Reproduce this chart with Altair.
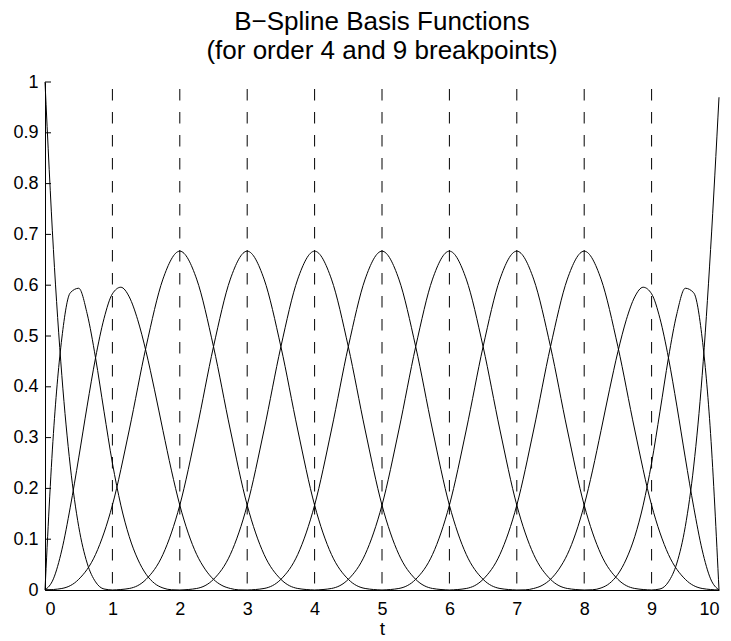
import altair as alt
import pandas as pd

# Each basis function: starting t, sampling step, and values
B_starts = [0, 0, 0, 0, 1, 2, 3, 4, 5, 6, 7, 8, 9]
B_steps = [0.125, 0.125, 0.125, 0.25, 0.25, 0.25, 0.25, 0.25, 0.25, 0.25, 0.125, 0.125, 0.125]
B_values = [
    [1.0, 0.670, 0.422, 0.244, 0.125, 0.053, 0.016, 0.002, 0.0],
    [0.0, 0.308, 0.496, 0.585, 0.594, 0.544, 0.457, 0.352, 0.25, 0.167, 0.105, 0.061, 0.031, 0.013, 0.004, 0.0005, 0.0],
    [0.0, 0.022, 0.079, 0.163, 0.260, 0.362, 0.457, 0.534, 0.583, 0.596, 0.577, 0.532, 0.469,
     0.394, 0.314, 0.236, 0.167, 0.112, 0.070, 0.041, 0.021, 0.009, 0.003, 0.0003, 0.0],
    [0.0, 0.003, 0.021, 0.070, 0.167, 0.315, 0.479, 0.612, 0.667, 0.612, 0.479, 0.315, 0.167, 0.070, 0.021, 0.003, 0.0],
    [0.0, 0.003, 0.021, 0.070, 0.167, 0.315, 0.479, 0.612, 0.667, 0.612, 0.479, 0.315, 0.167, 0.070, 0.021, 0.003, 0.0],
    [0.0, 0.003, 0.021, 0.070, 0.167, 0.315, 0.479, 0.612, 0.667, 0.612, 0.479, 0.315, 0.167, 0.070, 0.021, 0.003, 0.0],
    [0.0, 0.003, 0.021, 0.070, 0.167, 0.315, 0.479, 0.612, 0.667, 0.612, 0.479, 0.315, 0.167, 0.070, 0.021, 0.003, 0.0],
    [0.0, 0.003, 0.021, 0.070, 0.167, 0.315, 0.479, 0.612, 0.667, 0.612, 0.479, 0.315, 0.167, 0.070, 0.021, 0.003, 0.0],
    [0.0, 0.003, 0.021, 0.070, 0.167, 0.315, 0.479, 0.612, 0.667, 0.612, 0.479, 0.315, 0.167, 0.070, 0.021, 0.003, 0.0],
    [0.0, 0.003, 0.021, 0.070, 0.167, 0.315, 0.479, 0.612, 0.667, 0.612, 0.479, 0.315, 0.167, 0.070, 0.021, 0.003, 0.0],
    [0.0, 0.0003, 0.003, 0.009, 0.021, 0.041, 0.070, 0.112, 0.167, 0.236, 0.314, 0.394, 0.469,
     0.532, 0.577, 0.596, 0.583, 0.534, 0.457, 0.362, 0.260, 0.163, 0.079, 0.022, 0.0],
    [0.0, 0.0005, 0.004, 0.013, 0.031, 0.061, 0.105, 0.167, 0.25, 0.352, 0.457, 0.544, 0.594, 0.585, 0.496, 0.308, 0.0],
    [0.0, 0.002, 0.016, 0.053, 0.125, 0.244, 0.422, 0.670, 0.97],
]

breakpoints = [1, 2, 3, 4, 5, 6, 7, 8, 9]
x_ticks = [0, 1, 2, 3, 4, 5, 6, 7, 8, 9, 10]
y_ticks = [0, 0.1, 0.2, 0.3, 0.4, 0.5, 0.6, 0.7, 0.8, 0.9, 1.0]

rows = []
for k, (s, st, vals) in enumerate(zip(B_starts, B_steps, B_values)):
    for i, v in enumerate(vals):
        rows.append({"fn": k, "t": s + st * i, "v": v})
curves = pd.DataFrame(rows)
bp = pd.DataFrame({"t": breakpoints, "lo": 0, "hi": 1})
yt = pd.DataFrame({"y": y_ticks})

FONT = "Liberation Sans"

xscale = alt.Scale(domain=[0, 10], nice=False, zero=False)
yscale = alt.Scale(domain=[0, 1], nice=False)

lines = alt.Chart(curves).mark_line(
    interpolate="monotone", color="black", strokeWidth=1
).encode(
    x=alt.X("t:Q", scale=xscale,
            axis=alt.Axis(values=x_ticks, format="d", title="t", ticks=False,
                          labelPadding=10, titlePadding=1, grid=False)),
    y=alt.Y("v:Q", scale=yscale,
            axis=alt.Axis(values=y_ticks, format="~g", title=None, ticks=False,
                          labelPadding=7, grid=False)),
    detail="fn:N",
)

dashes = alt.Chart(bp).mark_rule(
    color="black", strokeWidth=1, strokeDash=[11.5, 11.5], strokeDashOffset=16
).encode(
    x=alt.X("t:Q", scale=xscale),
    y=alt.Y("hi:Q", scale=yscale),
    y2="lo:Q",
)

yticks = alt.Chart(yt).mark_rule(color="black", strokeWidth=1).encode(
    x=alt.value(0), x2=alt.value(6),
    y=alt.Y("y:Q", scale=yscale),
)

chart = alt.layer(dashes, lines, yticks).properties(
    width=674, height=508,
    title=alt.TitleParams(
        ["B\u2212Spline Basis Functions", "(for order 4 and 9 breakpoints)"],
        font=FONT, fontSize=26, fontWeight="normal", color="black",
        anchor="middle", frame="group", offset=9, lineHeight=29,
    ),
    autosize=alt.AutoSizeParams(type="none"),
    padding={"left": 45, "top": 82, "right": 12, "bottom": 51},
).configure_axis(
    domainColor="black", domainWidth=1, labelColor="black", titleColor="black",
    labelFont=FONT, titleFont=FONT, labelFontSize=18, titleFontSize=19,
    titleFontWeight="normal",
).configure_view(stroke=None)

chart.save("out.html", embed_options={"renderer": "svg", "actions": False})
